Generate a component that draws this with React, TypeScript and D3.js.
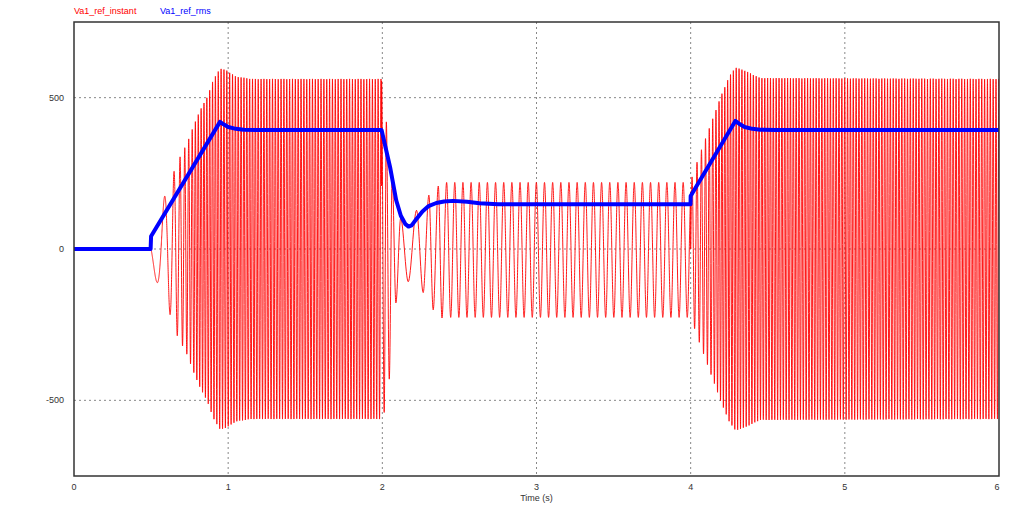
import React from "react";
import * as d3 from "d3";

// ---- axes / ticks ----
const xTicks = [0, 1, 2, 3, 4, 5, 6];
const yTicks = [-500, 0, 500];
const xDomain = [0, 6];
const yDomain = [-750, 750];

// ---- Va1_ref_rms (blue) ----
const rmsT = [0, 0.497, 0.5, 0.947, 0.97, 1.0, 1.05, 1.1, 1.2, 1.995, 2.05, 2.09, 2.12, 2.15, 2.17, 2.19, 2.22, 2.26, 2.3, 2.35, 2.4, 2.46, 2.55, 2.63, 2.75, 3.999, 4.0, 4.29, 4.32, 4.35, 4.4, 4.45, 4.55, 6];
const rmsV = [0, 0, 42, 420, 412, 403, 397, 394, 393, 393, 271, 161, 110, 82, 74, 78, 98, 124, 142, 152, 157, 159, 156, 151, 148, 148, 175, 423, 412, 403, 397, 394, 393, 393];

// ---- Va1_ref_instant (red) ----
// first ramp section: envelope (amplitude) and apparent oscillation frequency
const envAT = [0.5, 0.536, 0.586, 0.623, 0.666, 0.733, 0.772, 0.817, 0.863, 0.902, 0.947, 0.99, 1.05, 1.15, 1.995];
const envAV = [70, 108, 172, 217, 283, 349, 402, 458, 501, 557, 597, 590, 570, 562, 562];
const freqAT = [0.5, 0.54, 0.59, 0.63, 0.7, 0.8, 1.995];
const freqAV = [6, 8, 12, 18, 32, 54, 54];

// transient after t = 2 s: extrema
const transT = [1.995, 2.012, 2.026, 2.045, 2.064, 2.088, 2.119, 2.168, 2.222, 2.265, 2.302, 2.33, 2.363, 2.387];
const transV = [555, -540, 420, -430, 244, -178, 102, -108, 128, -144, 178, -201, 208, -228];

// steady low section
const steadyStart = 2.417;
const steadyEnd = 4.0;
const steadyFreq = 18.9;
const steadyPos = 220;
const steadyNeg = 226;

// second ramp section
const envDT = [4.0, 4.05, 4.1, 4.15, 4.2, 4.25, 4.29, 4.35, 4.45, 6.0];
const envDV = [225, 300, 370, 440, 510, 570, 600, 590, 565, 562];
const freqDT = [4.0, 4.1, 4.2, 6.0];
const freqDV = [28, 40, 54, 54];

const W = 1024;
const H = 519;
const M = { left: 74, right: 999, top: 22, bottom: 476 };

function lerp(ts: number[], vs: number[]) {
  return d3.scaleLinear().domain(ts).range(vs).clamp(true);
}

function buildInstant(): [number, number][] {
  const pts: [number, number][] = [];
  const dt = 0.0004;
  pts.push([0, 0]);
  pts.push([0.5, 0]);
  // section A
  {
    const env = lerp(envAT, envAV);
    const fr = lerp(freqAT, freqAV);
    let ph = 0;
    for (let t = 0.5; t < envAT[envAT.length - 1]; t += dt) {
      pts.push([t, -env(t) * Math.sin(ph)]);
      ph += 2 * Math.PI * fr(t) * dt;
    }
  }
  // transient B
  for (let i = 0; i < transT.length; i++) pts.push([transT[i], transV[i]]);
  // steady C
  for (let t = steadyStart; t < steadyEnd; t += dt) {
    const c = Math.cos(2 * Math.PI * steadyFreq * (t - steadyStart));
    pts.push([t, c > 0 ? c * steadyPos : c * steadyNeg]);
  }
  // section D
  {
    const env = lerp(envDT, envDV);
    const fr = lerp(freqDT, freqDV);
    let ph = 0;
    for (let t = 4.0; t <= 6.0; t += dt) {
      pts.push([t, env(t) * Math.sin(ph)]);
      ph += 2 * Math.PI * fr(t) * dt;
    }
  }
  return pts;
}

export default function App() {
  React.useEffect(() => {
    document.body.style.margin = "0";
  }, []);

  const x = d3.scaleLinear().domain(xDomain).range([M.left, M.right]);
  const y = d3.scaleLinear().domain(yDomain).range([M.bottom, M.top]);

  const instant = buildInstant();
  const redPath = d3
    .line<[number, number]>()
    .x((d) => x(d[0]))
    .y((d) => y(d[1]))
    .curve(d3.curveMonotoneX)(instant) as string;

  const rmsPts: [number, number][] = rmsT.map((t, i) => [t, rmsV[i]]);
  const bluePath = d3
    .line<[number, number]>()
    .x((d) => x(d[0]))
    .y((d) => y(d[1]))
    .curve(d3.curveLinear)(rmsPts) as string;

  const font = "'Liberation Sans', Arial, sans-serif";

  return (
    <svg width={W} height={H} style={{ display: "block", background: "#fff" }}>
      <defs>
        <clipPath id="plotclip">
          <rect x={M.left} y={M.top} width={M.right - M.left} height={M.bottom - M.top} />
        </clipPath>
      </defs>
      {/* grid */}
      {xTicks
        .filter((t) => t > xDomain[0] && t < xDomain[1])
        .map((t) => (
          <line key={"gx" + t} x1={x(t)} x2={x(t)} y1={M.top} y2={M.bottom} stroke="#888" strokeWidth={1} strokeDasharray="2,3" />
        ))}
      {yTicks.map((t) => (
        <line key={"gy" + t} x1={M.left} x2={M.right} y1={y(t)} y2={y(t)} stroke="#888" strokeWidth={1} strokeDasharray="2,3" />
      ))}
      {/* data */}
      <g clipPath="url(#plotclip)">
        <path d={redPath} fill="none" stroke="#ff0000" strokeWidth={0.9} />
        <path d={bluePath} fill="none" stroke="#0000ff" strokeWidth={4} strokeLinejoin="round" />
      </g>
      {/* frame */}
      <rect x={M.left} y={M.top} width={M.right - M.left} height={M.bottom - M.top} fill="none" stroke="#333" strokeWidth={1.5} />
      {/* y tick labels */}
      {yTicks.map((t) => (
        <text key={"yl" + t} x={64} y={y(t) + 3} textAnchor="end" fontSize={9} fontFamily={font} fill="#333">
          {t}
        </text>
      ))}
      {/* x tick labels */}
      {xTicks.map((t) => (
        <text key={"xl" + t} x={t === 6 ? x(t) - 2 : x(t)} y={490} textAnchor="middle" fontSize={9} fontFamily={font} fill="#333">
          {t}
        </text>
      ))}
      <text x={x(3)} y={501} textAnchor="middle" fontSize={9} fontFamily={font} fill="#333">
        Time (s)
      </text>
      {/* legend */}
      <text x={74} y={14} fontSize={9} fontFamily={font} fill="#ff0000">
        Va1_ref_instant
      </text>
      <text x={160} y={14} fontSize={9} fontFamily={font} fill="#0000ff">
        Va1_ref_rms
      </text>
    </svg>
  );
}
